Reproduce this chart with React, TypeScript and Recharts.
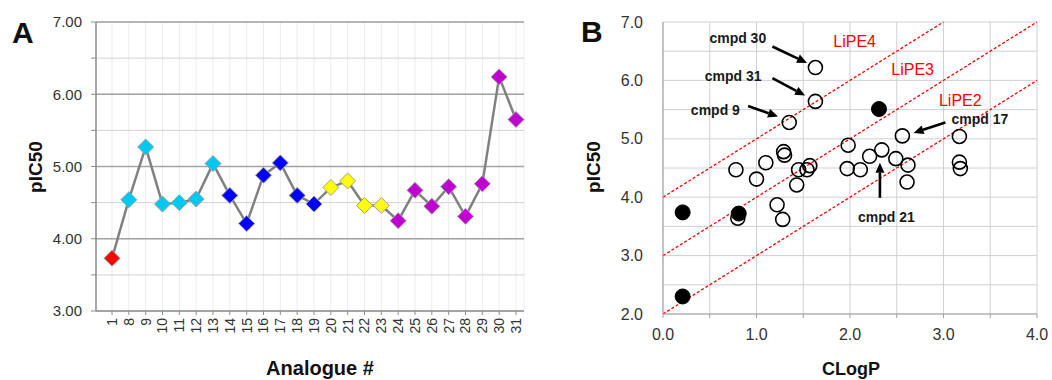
import React from "react";
import {
  LineChart,
  Line,
  ScatterChart,
  Scatter,
  XAxis,
  YAxis,
  CartesianGrid,
  ReferenceLine,
  ReferenceDot,
} from "recharts";

// Panel A: pIC50 per analogue
const analogues = [
  "1", "8", "9", "10", "11", "12", "13", "14", "15", "16", "17", "18", "19",
  "20", "21", "22", "23", "24", "25", "26", "27", "28", "29", "30", "31",
];
const analoguePic50 = [
  3.73, 4.54, 5.27, 4.48, 4.5, 4.55, 5.04, 4.6, 4.21, 4.88, 5.05, 4.6, 4.48,
  4.71, 4.8, 4.46, 4.46, 4.25, 4.67, 4.45, 4.72, 4.31, 4.76, 6.24, 5.65,
];
const analogueGroup = [
  "hit",
  "cyan", "cyan", "cyan", "cyan", "cyan", "cyan",
  "blue", "blue", "blue", "blue", "blue", "blue",
  "yellow", "yellow", "yellow", "yellow",
  "magenta", "magenta", "magenta", "magenta", "magenta", "magenta", "magenta", "magenta",
];
const groupColor: Record<string, string> = {
  hit: "#ff0000",
  cyan: "#00c8f2",
  blue: "#0000ff",
  yellow: "#ffff00",
  magenta: "#c000d0",
};
const yTicksA = [3, 3.5, 4, 4.5, 5, 5.5, 6, 6.5, 7];
const majorA = [4, 5, 6, 7];

// Panel B: pIC50 vs CLogP
const openClogP = [
  1.63, 1.63, 1.35, 2.56, 3.17, 3.17, 3.18, 0.78, 1.0, 1.1, 1.29, 1.3, 1.43,
  1.45, 1.54, 1.57, 1.22, 1.28, 0.8, 1.98, 1.97, 2.11, 2.21, 2.34, 2.49, 2.62, 2.61,
];
const openPic50 = [
  6.22, 5.64, 5.28, 5.05, 5.04, 4.6, 4.49, 4.47, 4.31, 4.59, 4.78, 4.72, 4.21,
  4.47, 4.47, 4.54, 3.87, 3.62, 3.64, 4.89, 4.49, 4.47, 4.7, 4.81, 4.66, 4.55, 4.26,
];
const filledClogP = [2.31, 0.81, 0.21, 0.21];
const filledPic50 = [5.51, 3.72, 3.74, 2.3];
const xTicksB = [0, 0.5, 1, 1.5, 2, 2.5, 3, 3.5, 4];
const yTicksB = [2, 2.5, 3, 3.5, 4, 4.5, 5, 5.5, 6, 6.5, 7];

// LiPE = pIC50 - CLogP
const lipeValues = [4, 3, 2];
const lipeEndX = [3, 4, 4];
const lipeLabelX = [2.05, 2.67, 3.18];
const lipeLabelY = [6.66, 6.18, 5.66];

const calloutText = ["cmpd 30", "cmpd 31", "cmpd 9", "cmpd 17", "cmpd 21"];
const calloutTextX = [0.8, 0.75, 0.56, 3.39, 2.39];
const calloutTextY = [6.72, 6.07, 5.5, 5.34, 3.66];
const arrowFrom = [[1.17, 6.58], [1.17, 6.04], [0.91, 5.56], [3.02, 5.28], [2.32, 3.99]];
const arrowTo = [[1.54, 6.3], [1.52, 5.74], [1.23, 5.38], [2.68, 5.1], [2.32, 4.59]];

const FONT = "'Liberation Sans', Arial, sans-serif";

const dataA = analogues.map((name, i) => ({
  name,
  pic50: analoguePic50[i],
  group: analogueGroup[i],
}));
const openData = openClogP.map((x, i) => ({ x, y: openPic50[i] }));
const filledData = filledClogP.map((x, i) => ({ x, y: filledPic50[i] }));

const Diamond = (props: any) => {
  const { cx, cy, payload } = props;
  if (cx == null || cy == null) return null;
  const r = 8;
  return (
    <path
      d={`M${cx},${cy - r}L${cx + r},${cy}L${cx},${cy + r}L${cx - r},${cy}Z`}
      fill={groupColor[payload.group]}
      stroke="#a0a0a0"
      strokeWidth={1}
    />
  );
};

const RotatedTick = (props: any) => {
  const { x, y, payload } = props;
  return (
    <text
      x={x}
      y={y}
      dy="0.35em"
      textAnchor="end"
      transform={`rotate(-90 ${x} ${y})`}
      fontSize={14}
      fontFamily={FONT}
      fill="#333"
    >
      {payload.value}
    </text>
  );
};

const OpenCircle = (props: any) => (
  <circle cx={props.cx} cy={props.cy} r={7} fill="none" stroke="#000" strokeWidth={1.6} />
);
const FilledCircle = (props: any) => (
  <circle cx={props.cx} cy={props.cy} r={7.5} fill="#000" stroke="#000" strokeWidth={1} />
);

const Arrow = (props: any) => {
  const { x1, y1, x2, y2 } = props;
  const ang = Math.atan2(y2 - y1, x2 - x1);
  const len = 10;
  const half = 4.5;
  const bx = x2 - len * Math.cos(ang);
  const by = y2 - len * Math.sin(ang);
  const px = -Math.sin(ang) * half;
  const py = Math.cos(ang) * half;
  return (
    <g>
      <line x1={x1} y1={y1} x2={bx} y2={by} stroke="#000" strokeWidth={2.6} />
      <path d={`M${x2},${y2}L${bx + px},${by + py}L${bx - px},${by - py}Z`} fill="#000" />
    </g>
  );
};

const labelShape = (text: string, color: string, size: number, weight: string) => (props: any) => (
  <text
    x={props.cx}
    y={props.cy}
    dy="0.35em"
    textAnchor="middle"
    fontSize={size}
    fontWeight={weight}
    fontFamily={FONT}
    fill={color}
  >
    {text}
  </text>
);

export default function App() {
  return (
    <div
      style={{
        position: "absolute",
        left: 0,
        top: 0,
        width: 1052,
        height: 380,
        background: "#fff",
        fontFamily: FONT,
      }}
    >
      <div style={{ position: "absolute", left: 0, top: 0 }}>
        <LineChart
          width={530}
          height={380}
          data={dataA}
          margin={{ top: 22, right: 6, bottom: 0, left: 0 }}
        >
          <CartesianGrid horizontal={false} stroke="#ebebeb" />
          <CartesianGrid vertical={false} stroke="#d2d2d2" />
          {majorA.map((v) => (
            <ReferenceLine key={v} y={v} stroke="#a3a3a3" strokeWidth={1.5} />
          ))}
          <XAxis
            dataKey="name"
            interval={0}
            padding={{ left: 16, right: 8 }}
            height={69}
            tickSize={4}
            tickMargin={3}
            tick={<RotatedTick />}
            axisLine={{ stroke: "#8c8c8c", strokeWidth: 1.5 }}
            tickLine={{ stroke: "#8c8c8c" }}
          />
          <YAxis
            domain={[3, 7]}
            ticks={yTicksA}
            width={96}
            tickSize={5}
            tickMargin={9}
            tickFormatter={(v: number) => (v % 1 === 0 ? v.toFixed(2) : "")}
            tick={{ fontSize: 15, fill: "#333", fontFamily: FONT }}
            axisLine={{ stroke: "#8c8c8c", strokeWidth: 1.5 }}
            tickLine={{ stroke: "#8c8c8c" }}
          />
          <Line
            dataKey="pic50"
            stroke="#808080"
            strokeWidth={2.5}
            dot={<Diamond />}
            activeDot={false}
            isAnimationActive={false}
          />
        </LineChart>
      </div>

      <div style={{ position: "absolute", left: 530, top: 0 }}>
        <ScatterChart
          width={522}
          height={380}
          margin={{ top: 22, right: 15, bottom: 0, left: 0 }}
        >
          <CartesianGrid stroke="#d0d0d0" />
          <XAxis
            type="number"
            dataKey="x"
            domain={[0, 4]}
            ticks={xTicksB}
            height={66}
            tickSize={4}
            tickMargin={11}
            tickFormatter={(v: number) => (v % 1 === 0 ? v.toFixed(1) : "")}
            tick={{ fontSize: 16, fill: "#333", fontFamily: FONT }}
            axisLine={{ stroke: "#a0a0a0" }}
            tickLine={{ stroke: "#a0a0a0" }}
          />
          <YAxis
            type="number"
            dataKey="y"
            domain={[2, 7]}
            ticks={yTicksB}
            width={133}
            tickSize={0}
            tickMargin={20}
            tickLine={false}
            tickFormatter={(v: number) => (v % 1 === 0 ? v.toFixed(1) : "")}
            tick={{ fontSize: 16, fill: "#333", fontFamily: FONT }}
            axisLine={{ stroke: "#a0a0a0" }}
          />
          {lipeValues.map((l, i) => (
            <ReferenceLine
              key={`lipe${l}`}
              segment={[
                { x: 0, y: l },
                { x: lipeEndX[i], y: l + lipeEndX[i] },
              ]}
              stroke="#ff0000"
              strokeWidth={1.3}
              strokeDasharray="3 2"
            />
          ))}
          {lipeValues.map((l, i) => (
            <ReferenceDot
              key={`lipelabel${l}`}
              x={lipeLabelX[i]}
              y={lipeLabelY[i]}
              r={0}
              shape={labelShape(`LiPE${l}`, "#ff0000", 16, "normal")}
            />
          ))}
          <Scatter data={openData} shape={OpenCircle} isAnimationActive={false} />
          <Scatter data={filledData} shape={FilledCircle} isAnimationActive={false} />
          {calloutText.map((t, i) => (
            <ReferenceLine
              key={`arrow${i}`}
              segment={[
                { x: arrowFrom[i][0], y: arrowFrom[i][1] },
                { x: arrowTo[i][0], y: arrowTo[i][1] },
              ]}
              shape={Arrow}
            />
          ))}
          {calloutText.map((t, i) => (
            <ReferenceDot
              key={`callout${i}`}
              x={calloutTextX[i]}
              y={calloutTextY[i]}
              r={0}
              shape={labelShape(t, "#1a1a1a", 14, "bold")}
            />
          ))}
        </ScatterChart>
      </div>

      <svg
        width={1052}
        height={380}
        style={{ position: "absolute", left: 0, top: 0, pointerEvents: "none" }}
        fontFamily={FONT}
        fontWeight="bold"
        fill="#111"
      >
        <text x={12} y={43} fontSize={30}>A</text>
        <text x={581} y={42} fontSize={30}>B</text>
        <text x={35} y={167} dy="0.36em" fontSize={19} textAnchor="middle" transform="rotate(-90 35 167)">
          pIC50
        </text>
        <text x={320} y={375} fontSize={20} textAnchor="middle">Analogue #</text>
        <text x={593} y={167} dy="0.36em" fontSize={19} textAnchor="middle" transform="rotate(-90 593 167)">
          pIC50
        </text>
        <text x={851} y={375} fontSize={18} textAnchor="middle">CLogP</text>
      </svg>
    </div>
  );
}
